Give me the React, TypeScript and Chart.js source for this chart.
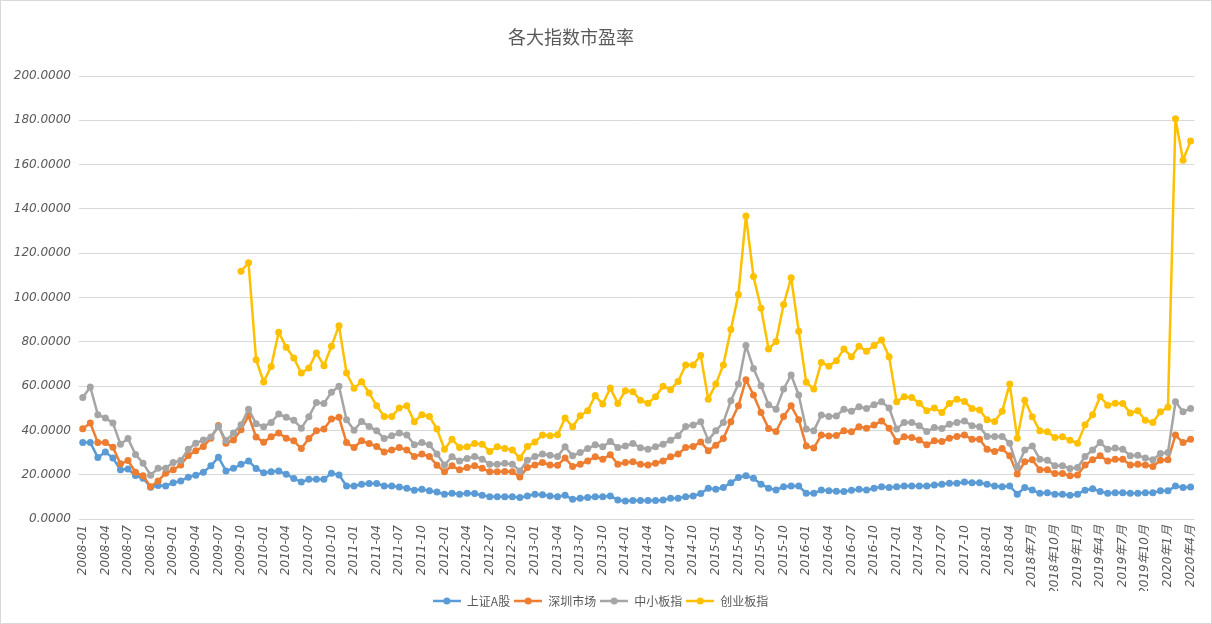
import { useEffect, useRef } from 'react';
import { Chart, registerables } from 'chart.js';

Chart.register(...registerables);

// month labels: 2008-01 .. 2018-06 then 2018年7月 .. 2020年4月
const monthLabels: string[] = [];
for (let i = 0; i < 148; i++) {
  const y = 2008 + Math.floor(i / 12);
  const m = (i % 12) + 1;
  monthLabels.push(i < 126 ? `${y}-${String(m).padStart(2, '0')}` : `${y}年${m}月`);
}

const chartTitle = '各大指数市盈率';
const seriesNames = ['上证A股', '深圳市场', '中小板指', '创业板指'];
const seriesColors = ['#5B9BD5', '#ED7D31', '#A5A5A5', '#FFC000'];

const shanghaiA = [
  34.5, 34.5, 27.8, 30.2, 27.5, 22.2, 22.6, 19.6, 18.4, 14.3, 15.1, 14.9,
  16.4, 17.2, 18.9, 19.8, 21.1, 24.0, 27.9, 21.7, 22.9, 24.7, 26.2, 22.8,
  20.9, 21.3, 21.7, 20.2, 18.3, 16.7, 17.9, 17.9, 17.9, 20.7, 19.9, 14.9,
  14.9, 15.7, 16.0, 16.0, 14.9, 14.9, 14.5, 13.9, 13.0, 13.4, 12.7, 12.2,
  11.2, 11.6, 11.2, 11.6, 11.5, 10.7, 10.1, 10.0, 10.1, 10.0, 9.7, 10.4,
  11.2, 10.9, 10.4, 10.1, 10.7, 8.9, 9.4, 9.7, 10.0, 10.0, 10.4, 8.6,
  8.1, 8.4, 8.4, 8.4, 8.4, 8.6, 9.4, 9.4, 10.1, 10.4, 11.5, 13.9,
  13.4, 14.2, 16.4, 18.7, 19.5, 18.4, 15.7, 13.9, 13.1, 14.6, 14.9, 14.9,
  11.6, 11.6, 13.1, 12.7, 12.5, 12.4, 13.0, 13.4, 13.1, 13.9, 14.6, 14.2,
  14.6, 14.9, 14.9, 14.9, 14.9, 15.4, 15.7, 16.1, 16.1, 16.7, 16.4, 16.4,
  15.7, 14.9, 14.6, 14.9, 11.2, 14.2, 13.1, 11.6, 11.9, 11.2, 11.2, 10.7,
  11.2, 13.0, 13.7, 12.4, 11.6, 11.9, 11.9, 11.6, 11.6, 11.9, 11.9, 12.7,
  12.7, 14.9, 14.2, 14.5,
];

const shenzhen = [
  40.7, 43.3, 34.5, 34.5, 32.4, 24.9, 26.4, 21.1, 19.5, 14.6, 17.2, 20.7,
  22.2, 24.4, 28.7, 30.8, 32.7, 36.5, 42.2, 34.2, 35.7, 40.3, 46.6, 37.0,
  34.6, 37.1, 38.8, 36.5, 35.3, 31.8, 36.3, 39.8, 40.6, 45.1, 45.9, 34.5,
  32.3, 35.3, 34.1, 32.7, 30.3, 31.2, 32.3, 31.2, 28.2, 29.3, 28.2, 24.3,
  21.3, 24.0, 22.2, 23.2, 24.0, 22.9, 21.3, 21.3, 21.4, 21.3, 19.0, 23.2,
  24.4, 25.5, 24.4, 24.3, 27.5, 23.7, 24.7, 26.2, 28.1, 27.0, 29.0, 24.7,
  25.5, 25.8, 24.7, 24.4, 25.2, 26.2, 28.1, 29.3, 32.3, 32.7, 34.8, 30.8,
  33.3, 36.3, 43.9, 51.1, 62.9, 56.0, 48.1, 40.9, 39.5, 46.3, 51.1, 44.8,
  33.0, 32.0, 37.9, 37.5, 37.7, 39.8, 39.4, 41.6, 41.0, 42.4, 44.3, 41.0,
  35.0, 37.1, 36.8, 35.7, 33.5, 35.3, 35.0, 36.5, 37.3, 37.9, 36.0, 36.0,
  31.5, 30.5, 31.8, 28.5, 20.3, 25.9, 26.7, 22.2, 22.2, 20.5, 20.5, 19.5,
  19.9, 24.4, 26.7, 28.5, 26.2, 27.0, 27.0, 24.4, 24.7, 24.4, 23.7, 26.5,
  26.7, 37.9, 34.5, 36.0,
];

const smeBoard = [
  54.9, 59.6, 47.1, 45.6, 43.3, 33.8, 36.3, 29.1, 25.2, 19.8, 22.9, 22.9,
  25.5, 26.4, 31.5, 34.2, 35.7, 37.0, 41.8, 35.4, 38.8, 42.5, 49.6, 43.0,
  41.7, 43.6, 47.4, 45.9, 44.6, 41.0, 46.2, 52.6, 52.2, 57.2, 59.9, 44.8,
  40.1, 44.0, 41.8, 39.8, 36.3, 37.6, 38.8, 37.9, 33.5, 34.5, 33.5, 29.3,
  24.4, 28.1, 26.2, 27.3, 28.2, 27.0, 24.7, 24.7, 25.2, 24.7, 21.7, 26.5,
  28.2, 29.3, 28.8, 28.2, 32.6, 28.5, 30.0, 31.8, 33.5, 32.6, 35.0, 32.3,
  33.0, 34.1, 32.2, 31.5, 32.6, 33.8, 35.6, 37.6, 41.8, 42.4, 43.9, 35.6,
  39.8, 43.6, 53.4, 60.9, 78.3, 68.0, 60.2, 51.6, 49.6, 58.7, 65.0, 56.0,
  40.6, 39.8, 46.9, 46.3, 46.5, 49.6, 48.6, 50.7, 49.9, 51.6, 52.9, 50.1,
  40.6, 43.6, 43.6, 42.1, 39.5, 41.3, 40.9, 42.8, 43.6, 44.3, 42.1, 41.6,
  37.3, 37.3, 37.3, 34.2, 23.5, 31.1, 33.0, 27.0, 26.5, 24.0, 24.0, 22.8,
  23.2, 28.2, 31.2, 34.5, 31.5, 32.0, 31.5, 28.5, 28.8, 27.5, 26.7, 29.6,
  30.0, 52.9, 48.4, 49.9,
];

const chinext = [
  null, null, null, null, null, null, null, null, null, null, null, null,
  null, null, null, null, null, null, null, null, null, 111.9, 115.7, 71.9,
  61.9, 68.9, 84.3, 77.5, 72.7, 65.9, 68.2, 75.0, 69.2, 78.0, 87.3, 65.9,
  59.0, 62.0, 56.9, 51.1, 46.3, 46.3, 50.1, 51.1, 43.9, 47.1, 46.3, 40.6,
  31.5, 36.0, 32.3, 32.6, 34.1, 33.8, 30.5, 32.6, 31.8, 31.2, 27.5, 32.7,
  34.8, 37.9, 37.6, 38.0, 45.6, 41.6, 46.6, 48.9, 55.7, 51.9, 59.1, 52.2,
  57.9, 57.5, 53.6, 52.3, 55.2, 59.9, 58.4, 62.1, 69.5, 69.5, 73.8, 54.1,
  60.9, 69.5, 85.5, 101.4, 136.8, 109.5, 95.2, 76.8, 80.1, 96.8, 108.9, 84.8,
  61.7, 58.7, 70.7, 69.0, 71.5, 76.8, 73.3, 78.0, 75.7, 78.3, 80.8, 73.3,
  52.9, 55.2, 54.9, 52.3, 48.9, 50.1, 48.1, 52.2, 54.1, 53.1, 49.9, 49.2,
  44.8, 44.0, 48.6, 60.9, 36.4, 53.6, 46.2, 39.8, 39.4, 36.8, 37.1, 35.6,
  34.2, 42.5, 47.1, 55.2, 51.4, 52.3, 52.2, 47.8, 48.9, 44.6, 43.6, 48.4,
  50.4, 180.7, 162.0, 170.6,
];

const yTicks = [0, 20, 40, 60, 80, 100, 120, 140, 160, 180, 200];

const textColor = '#595959';
const gridColor = '#d9d9d9';

// legend swatch: line with a round marker, like the spreadsheet legend
function makeSwatch(color: string) {
  const c = document.createElement('canvas');
  c.width = 28;
  c.height = 10;
  const g = c.getContext('2d');
  if (g) {
    g.strokeStyle = color;
    g.lineWidth = 2.5;
    g.beginPath();
    g.moveTo(0, 5);
    g.lineTo(28, 5);
    g.stroke();
    g.fillStyle = color;
    g.beginPath();
    g.arc(14, 5, 3.5, 0, Math.PI * 2);
    g.fill();
  }
  return c;
}

// the title sits a little left of centre in the original, so draw it ourselves
const offsetTitle = {
  id: 'offsetTitle',
  afterDraw(chart: Chart) {
    const { ctx } = chart;
    ctx.save();
    ctx.fillStyle = textColor;
    ctx.font = "18px 'Noto Sans CJK SC', sans-serif";
    ctx.textAlign = 'center';
    ctx.textBaseline = 'middle';
    ctx.fillText(chartTitle, 570, 36);
    ctx.restore();
  },
};

export default function App() {
  const chartRef = useRef<HTMLCanvasElement>(null);
  const chartInstance = useRef<Chart | null>(null);

  useEffect(() => {
    if (!chartRef.current) return;
    const ctx = chartRef.current.getContext('2d');
    if (!ctx) return;

    if (chartInstance.current) {
      chartInstance.current.destroy();
    }

    const allSeries = [shanghaiA, shenzhen, smeBoard, chinext];
    const swatches = seriesColors.map(makeSwatch);

    chartInstance.current = new Chart(ctx, {
      type: 'line',
      plugins: [offsetTitle],
      data: {
        labels: monthLabels,
        datasets: allSeries.map((values, i) => ({
          label: seriesNames[i],
          data: values,
          borderColor: seriesColors[i],
          backgroundColor: seriesColors[i],
          borderWidth: 2.5,
          borderJoinStyle: 'round',
          borderCapStyle: 'round',
          tension: 0,
          pointRadius: 3.5,
          pointBorderWidth: 0,
          pointBackgroundColor: seriesColors[i],
          order: 4 - i,
        })),
      },
      options: {
        animation: false,
        responsive: true,
        maintainAspectRatio: false,
        layout: {
          padding: { left: 0, right: 11, top: 75, bottom: 6 },
        },
        plugins: {
          title: { display: false },
          legend: {
            position: 'bottom',
            labels: {
              color: textColor,
              font: { size: 12, family: "'Noto Sans CJK SC', sans-serif" },
              usePointStyle: true,
              pointStyleWidth: 28,
              padding: 4,
              generateLabels: (chart) =>
                chart.data.datasets.map((ds, i) => ({
                  text: ds.label as string,
                  fillStyle: seriesColors[i],
                  strokeStyle: seriesColors[i],
                  fontColor: textColor,
                  pointStyle: swatches[i],
                  lineWidth: 0,
                  hidden: false,
                  datasetIndex: i,
                })),
            },
          },
          tooltip: { enabled: false },
        },
        scales: {
          x: {
            offset: true,
            grid: { display: false, drawTicks: false },
            border: { display: false },
            afterFit: (scale) => {
              scale.height = 72;
            },
            ticks: {
              autoSkip: false,
              minRotation: 90,
              maxRotation: 90,
              padding: 6,
              color: textColor,
              font: { size: 12, style: 'italic', family: "'DejaVu Sans', 'Noto Sans CJK SC', sans-serif" },
              callback: (_v, i) => (i % 3 === 0 ? monthLabels[i] : ''),
            },
          },
          y: {
            min: yTicks[0],
            max: yTicks[yTicks.length - 1],
            afterFit: (scale) => {
              scale.width = 78;
            },
            afterBuildTicks: (scale) => {
              scale.ticks = yTicks.map((v) => ({ value: v }));
            },
            grid: { color: gridColor, lineWidth: 1, drawTicks: false },
            border: { display: false },
            ticks: {
              padding: 8,
              color: textColor,
              font: { size: 12, style: 'italic', family: "'DejaVu Sans', sans-serif" },
              callback: (v) => Number(v).toFixed(4),
            },
          },
        },
      },
    });

    return () => {
      if (chartInstance.current) {
        chartInstance.current.destroy();
        chartInstance.current = null;
      }
    };
  }, []);

  return (
    <div
      style={{
        position: 'absolute',
        left: 0,
        top: 0,
        width: 1212,
        height: 624,
        boxSizing: 'border-box',
        border: '1px solid #d9d9d9',
        background: '#fff',
      }}
    >
      <div style={{ width: 1210, height: 622, position: 'relative' }}>
        <canvas ref={chartRef}></canvas>
      </div>
    </div>
  );
}
